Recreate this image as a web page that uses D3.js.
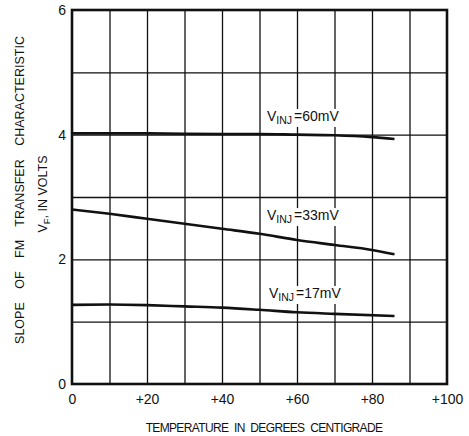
<!DOCTYPE html>
<html>
<head>
<meta charset="utf-8">
<script src="https://cdn.jsdelivr.net/npm/d3@7"></script>
<style>
  body { margin: 0; background: #fff; }
  svg { display: block; font-family: "Liberation Sans", Arial, sans-serif; }
  .grid line { stroke: #111; stroke-width: 1.3; }
  .grid .domain { display: none; }
  .axis .domain { display: none; }
  .axis line { display: none; }
  .axis text { font-size: 14px; fill: #111; }
</style>
</head>
<body>
<div class="chart"></div>
<script>
// Temperature (deg C) and slope V_F (volts)
const temps60 = [0, 20, 40, 50, 60, 70, 80, 86];
const volts60 = [4.02, 4.02, 4.01, 4.01, 4.0, 3.99, 3.96, 3.93];

const temps33 = [0, 10, 20, 30, 40, 50, 60, 70, 80, 86];
const volts33 = [2.80, 2.73, 2.65, 2.57, 2.49, 2.41, 2.31, 2.23, 2.15, 2.08];

const temps17 = [0, 10, 20, 30, 40, 50, 60, 70, 86];
const volts17 = [1.27, 1.275, 1.265, 1.245, 1.225, 1.19, 1.15, 1.125, 1.09];

const seriesNames = ["60mV", "33mV", "17mV"];

const xTicks = [0, 20, 40, 60, 80, 100];
const xTickLabels = ["0", "+20", "+40", "+60", "+80", "+100"];
const yTicks = [0, 2, 4, 6];
const yTickLabels = ["0", "2", "4", "6"];

const width = 469, height = 436;
const margin = { top: 10, right: 22, bottom: 52, left: 72 };
const chartWidth = width - margin.left - margin.right;
const chartHeight = height - margin.top - margin.bottom;

const svg = d3.select(".chart").append("svg")
  .attr("width", width)
  .attr("height", height);

const chart = svg.append("g")
  .attr("transform", `translate(${margin.left}, ${margin.top})`);

const xScale = d3.scaleLinear().domain([0, 100]).range([0, chartWidth]);
const yScale = d3.scaleLinear().domain([0, 6]).range([chartHeight, 0]);

// grid lines every 10 degrees and every volt
chart.append("g")
  .attr("class", "grid")
  .attr("transform", `translate(0, ${chartHeight})`)
  .call(d3.axisBottom(xScale).tickValues(d3.range(10, 100, 10)).tickSize(-chartHeight).tickFormat(""));

chart.append("g")
  .attr("class", "grid")
  .call(d3.axisLeft(yScale).tickValues(d3.range(1, 6, 1)).tickSize(-chartWidth).tickFormat(""));

// frame
chart.append("rect")
  .attr("x", 0).attr("y", 0)
  .attr("width", chartWidth).attr("height", chartHeight)
  .attr("fill", "none")
  .attr("stroke", "#111")
  .attr("stroke-width", 2.6);

// tick labels
chart.append("g")
  .attr("class", "axis")
  .attr("transform", `translate(0, ${chartHeight})`)
  .call(d3.axisBottom(xScale).tickValues(xTicks).tickSize(0).tickPadding(10)
    .tickFormat((d, i) => xTickLabels[i]));

chart.append("g")
  .attr("class", "axis")
  .call(d3.axisLeft(yScale).tickValues(yTicks).tickSize(0).tickPadding(6)
    .tickFormat((d, i) => yTickLabels[i]));

// curves
const series = [
  { name: seriesNames[0], t: temps60, v: volts60 },
  { name: seriesNames[1], t: temps33, v: volts33 },
  { name: seriesNames[2], t: temps17, v: volts17 },
];

const line = d3.line()
  .x(d => xScale(d[0]))
  .y(d => yScale(d[1]))
  .curve(d3.curveMonotoneX);

chart.append("g").selectAll("path")
  .data(series)
  .join("path")
  .attr("d", s => line(s.t.map((t, i) => [t, s.v[i]])))
  .attr("fill", "none")
  .attr("stroke", "#111")
  .attr("stroke-width", 2.6);

// curve labels, on a white patch that breaks the grid like the original
const labelAt = [[52, 4.22], [52, 2.63], [52.5, 1.38]];
const labelGroup = chart.append("g");
const labels = labelGroup.selectAll("text")
  .data(series)
  .join("text")
  .attr("x", (s, i) => xScale(labelAt[i][0]))
  .attr("y", (s, i) => yScale(labelAt[i][1]))
  .attr("font-size", 14)
  .attr("fill", "#111");
labels.append("tspan").text("V");
labels.append("tspan").attr("font-size", 10.5).attr("dy", 3).text("INJ");
labels.append("tspan").attr("dy", -3).attr("dx", 2).text(s => "=" + s.name.replace("mV", "") + "mV");

labels.each(function () {
  const b = this.getBBox();
  labelGroup.insert("rect", "text")
    .attr("x", b.x - 1).attr("y", b.y + 1)
    .attr("width", b.width + 2).attr("height", b.height)
    .attr("fill", "#fff");
});

// axis titles
svg.append("text")
  .attr("x", 264)
  .attr("y", 432)
  .attr("text-anchor", "middle")
  .attr("font-size", 12)
  .attr("letter-spacing", -0.65)
  .attr("word-spacing", 3)
  .attr("fill", "#111")
  .text("TEMPERATURE IN DEGREES CENTIGRADE");

svg.append("text")
  .attr("transform", "translate(24, 190) rotate(-90)")
  .attr("text-anchor", "middle")
  .attr("font-size", 12.5)
  .attr("word-spacing", 10)
  .attr("fill", "#111")
  .text("SLOPE OF FM TRANSFER CHARACTERISTIC");

const vf = svg.append("text")
  .attr("transform", "translate(47, 194) rotate(-90)")
  .attr("text-anchor", "middle")
  .attr("font-size", 12.5)
  .attr("fill", "#111");
vf.append("tspan").text("V");
vf.append("tspan").attr("font-size", 9.5).attr("dy", 3).text("F");
vf.append("tspan").attr("dy", -3).text(", IN VOLTS");
</script>
</body>
</html>
